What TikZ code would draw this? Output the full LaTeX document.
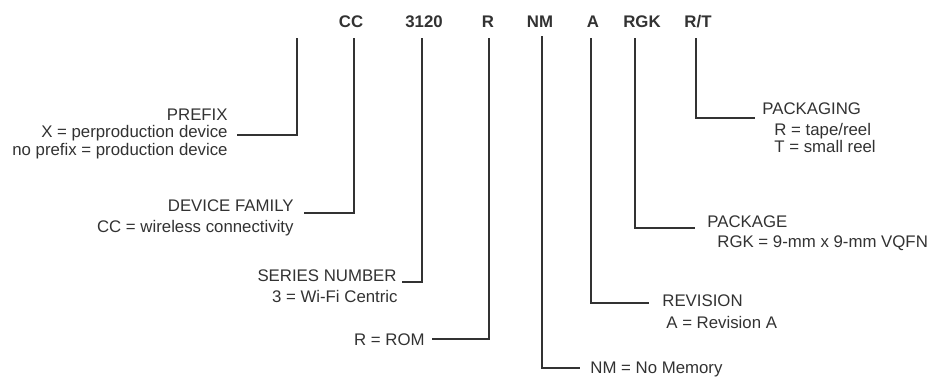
\documentclass[tikz,border=0pt]{standalone}
\usepackage{fontspec}
\setmainfont{Liberation Sans}
\usetikzlibrary{positioning,calc}
\definecolor{inkgray}{RGB}{50,50,50}

\begin{document}
\begin{tikzpicture}[x=0.5pt, y=-0.5pt,
    field/.style={inner sep=0pt, font=\fontsize{8.4}{10}\selectfont\bfseries, text=inkgray},
    desc/.style={inner sep=0pt, font=\fontsize{8.4}{10}\selectfont, text=inkgray},
    lead/.style={draw=inkgray, line width=0.6pt}]
    \useasboundingbox (0,0) rectangle (931,377);

    % Part number fields
    \node[field, anchor=base] (cc) at (351,27) {CC};
    \node[field, anchor=base] (num) at (424,27) {3120};
    \node[field, anchor=base] (rom) at (488,27) {R};
    \node[field, anchor=base] (mem) at (540,27) {NM};
    \node[field, anchor=base] (rev) at (593,27) {A};
    \node[field, anchor=base] (pkg) at (642,27) {RGK};
    \node[field, anchor=base] (pkgng) at (698,27) {R/T};
    \coordinate (pfxtop) at (297,38);

    % Descriptions on the left
    \node[desc, anchor=base east] (pfx) at (228,120) {PREFIX};
    \node[desc, anchor=base east] (pfxx) at ([yshift=-8.75pt]pfx.base east) {X = perproduction device};
    \node[desc, anchor=base east] (pfxno) at ([yshift=-8.75pt]pfxx.base east) {no prefix = production device};
    \node[desc, anchor=base east] (fam) at (294,211) {DEVICE FAMILY};
    \node[desc, anchor=base east] (famd) at ([yshift=-10.5pt]fam.base east) {CC = wireless connectivity};
    \node[desc, anchor=base east] (ser) at (397,281) {SERIES NUMBER};
    \node[desc, anchor=base east] (serd) at ([xshift=0.5pt,yshift=-10.5pt]ser.base east) {3 = Wi-Fi Centric};
    \node[desc, anchor=base east] (romd) at (425,345) {R = ROM};

    % Descriptions on the right
    \node[desc, anchor=base west] (memd) at (590,373) {NM = No Memory};
    \node[desc, anchor=base west] (revt) at (662,306) {REVISION};
    \node[desc, anchor=base west] (revd) at ([xshift=2pt,yshift=-11pt]revt.base west) {A = Revision A};
    \node[desc, anchor=base west] (pkgt) at (707,227) {PACKAGE};
    \node[desc, anchor=base west] (pkgd) at ([xshift=5pt,yshift=-10pt]pkgt.base west) {RGK = 9-mm x 9-mm VQFN};
    \node[desc, anchor=base west] (pkgngt) at (762,114) {PACKAGING};
    \node[desc, anchor=base west] (pkgngr) at ([xshift=6pt,yshift=-10.5pt]pkgngt.base west) {R = tape/reel};
    \node[desc, anchor=base west] (pkgngs) at ([yshift=-8.5pt]pkgngr.base west) {T = small reel};

    % Leader lines
    \draw[lead] (pfxtop) |- ([xshift=4.5pt,yshift=1.25pt]pfxx.base east);
    \draw[lead] (cc.base) ++(3,11) |- ([xshift=5pt,yshift=-1pt]fam.base east);
    \draw[lead] (num.base) ++(-2,11) |- ([xshift=2.5pt,yshift=-0.5pt]ser.base east);
    \draw[lead] (rom.base) ++(1,11) |- ([xshift=3.5pt,yshift=3pt]romd.base east);
    \draw[lead] (mem.base) ++(2,9) |- ([xshift=-5pt,yshift=2.5pt]memd.base west);
    \draw[lead] (rev.base) ++(-2,11) |- ([xshift=-6.5pt,yshift=1.5pt]revt.base west);
    \draw[lead] (pkg.base) ++(-7,11) |- ([xshift=-6pt,yshift=-0.5pt]pkgt.base west);
    \draw[lead] (pkgng.base) ++(-2,11) |- ([xshift=-3.5pt,yshift=-2pt]pkgngt.base west);
\end{tikzpicture}
\end{document}
